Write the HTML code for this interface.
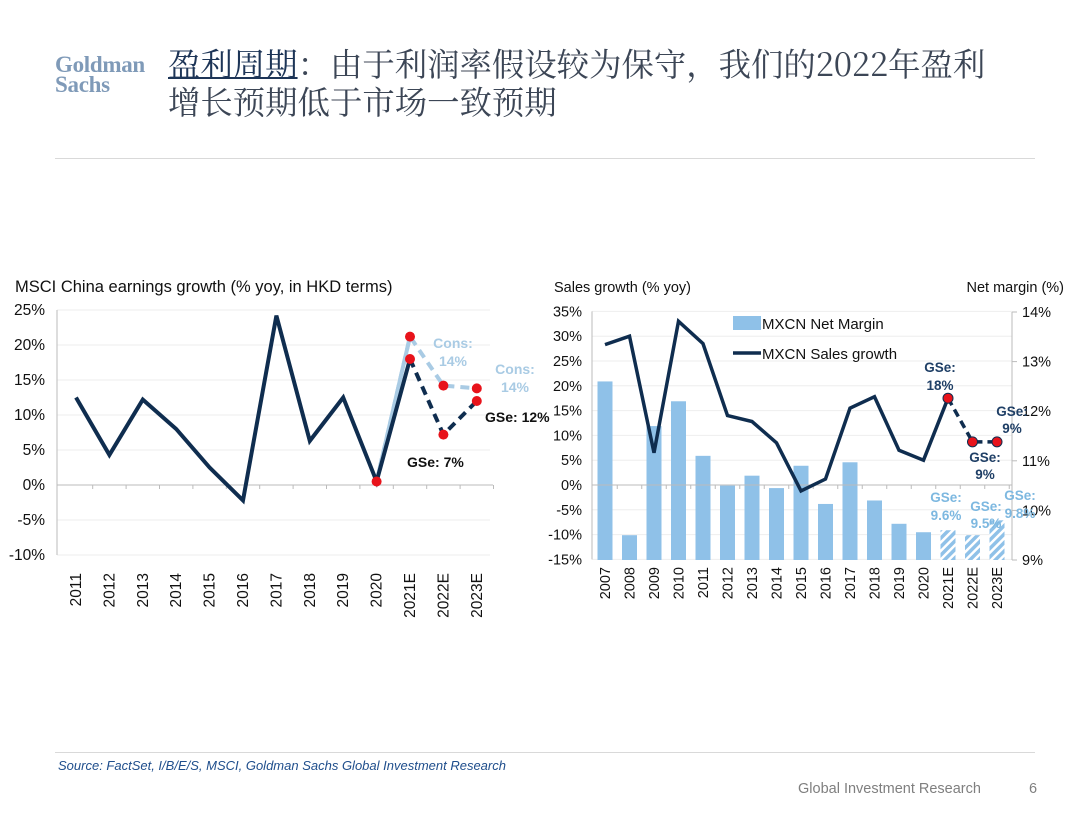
<!DOCTYPE html>
<html><head><meta charset="utf-8">
<style>
body{margin:0;width:1080px;height:834px;background:#fff;position:relative;overflow:hidden;font-family:"Liberation Sans","Noto Sans CJK SC",sans-serif;}
.logo{position:absolute;left:55px;top:55px;font-family:"Liberation Serif",serif;font-weight:bold;color:#7f9ab8;font-size:23px;line-height:20px;letter-spacing:-0.3px}
.title{position:absolute;left:168px;top:44px;font-family:"Noto Serif CJK SC",serif;font-size:32.4px;line-height:38px;color:#3c4656;white-space:nowrap}
.title u{color:#1d3557;text-decoration-thickness:2px}
.hr{position:absolute;left:55px;width:980px;height:1px;background:#d9d9d9}
.src{position:absolute;left:58px;top:758px;font-size:13px;font-style:italic;color:#1f4e8c}
.foot{position:absolute;top:781px;font-size:14.5px;color:#7f7f7f}
svg{position:absolute;left:0;top:0}
</style></head><body>
<div class="logo">Goldman<br>Sachs</div>
<div class="title"><u>盈利周期</u>：由于利润率假设较为保守，我们的2022年盈利<br>增长预期低于市场一致预期</div>
<div class="hr" style="top:158px"></div>
<div class="hr" style="top:752px"></div>
<div class="src">Source: FactSet, I/B/E/S, MSCI, Goldman Sachs Global Investment Research</div>
<div class="foot" style="left:798px">Global Investment Research</div>
<div class="foot" style="left:1029px">6</div>
<svg id="chart" width="1080" height="834"></svg>
<script>
const leftCats=["2011","2012","2013","2014","2015","2016","2017","2018","2019","2020","2021E","2022E","2023E"];
const leftActual=[12.5,4.3,12.2,8,2.5,-2.2,24.2,6.3,12.5,0.5];
const leftGS=[0.5,18,7.2,12];
const leftCons=[0.5,21.2,14.2,13.8];
const leftTicks=[25,20,15,10,5,0,-5,-10];
const rightCats=["2007","2008","2009","2010","2011","2012","2013","2014","2015","2016","2017","2018","2019","2020","2021E","2022E","2023E"];
const margin=[12.6,9.5,11.7,12.2,11.1,10.5,10.7,10.45,10.9,10.13,10.97,10.2,9.73,9.56,9.6,9.5,9.8];
const sales=[28.3,30,6.5,33,28.5,14,12.8,8.5,-1.2,1.2,15.5,17.8,7,5,17.5,8.7,8.7];
const rightTicksL=[35,30,25,20,15,10,5,0,-5,-10,-15];
const rightTicksR=[14,13,12,11,10,9];

const svg=document.getElementById('chart');const NS="http://www.w3.org/2000/svg";
function el(tag,attrs,name,txt){const e=document.createElementNS(NS,tag);for(const k in attrs)e.setAttribute(k,attrs[k]);


if(txt!==undefined)e.textContent=txt;svg.appendChild(e);return e;}
// LEFT
const ly=v=>485-(v*7);const lx=i=>76+i*33.4;
el('text',{x:15,y:292,'font-size':16.5,fill:'#111'},'left-chart-title','MSCI China earnings growth (% yoy, in HKD terms)');
leftTicks.forEach(t=>{if(t!==0)el('line',{x1:57,x2:490,y1:ly(t),y2:ly(t),stroke:'#eeeeee'},'left-gridline');
el('text',{x:45,y:ly(t)+5,'font-size':15.5,fill:'#111','text-anchor':'end'},'left-y-tick',t+'%');});
el('line',{x1:57,x2:57,y1:ly(25),y2:ly(-10),stroke:'#bbb'},'left-y-axis');
el('line',{x1:57,x2:493,y1:ly(0),y2:ly(0),stroke:'#bbb'},'left-x-axis');
leftCats.forEach((c,i)=>{el('line',{x1:lx(i)+16.7,x2:lx(i)+16.7,y1:ly(0),y2:ly(0)+4,stroke:'#bbb'},'left-x-tickmark');
el('text',{x:0,y:0,'font-size':15.5,fill:'#111','text-anchor':'end',transform:`translate(${lx(i)+5},573) rotate(-90)`},'left-x-label',c);});
el('polyline',{points:leftCons.map((v,i)=>lx(9+i)+','+ly(v)).join(' '),fill:'none',stroke:'#a9cbe4',"stroke-width":4,'stroke-dasharray':'9,6'},'cons-line');
el('line',{x1:lx(9),y1:ly(leftCons[0]),x2:lx(10),y2:ly(leftCons[1]),stroke:'#a9cbe4','stroke-width':4},'cons-line-solid');
el('polyline',{points:leftActual.map((v,i)=>lx(i)+','+ly(v)).join(' ')+' '+lx(10)+','+ly(leftGS[1]),fill:'none',stroke:'#0f2d4f','stroke-width':4,'stroke-linejoin':'miter'},'earnings-growth-line');
el('polyline',{points:leftGS.slice(1).map((v,i)=>lx(10+i)+','+ly(v)).join(' '),fill:'none',stroke:'#0f2d4f','stroke-width':4,'stroke-dasharray':'9,6'},'gse-line');
[[9,leftCons[0]],[10,leftCons[1]],[11,leftCons[2]],[12,leftCons[3]],[10,leftGS[1]],[11,leftGS[2]],[12,leftGS[3]]].forEach(p=>el('circle',{cx:lx(p[0]),cy:ly(p[1]),r:5,fill:'#e8131b'},'estimate-point'));
el('text',{x:453,y:348,'font-size':14,'font-weight':'bold',fill:'#a9cbe4','text-anchor':'middle'},'cons-2022-label','Cons:');
el('text',{x:453,y:366,'font-size':14,'font-weight':'bold',fill:'#a9cbe4','text-anchor':'middle'},'cons-2022-label','14%');
el('text',{x:515,y:374,'font-size':14,'font-weight':'bold',fill:'#a9cbe4','text-anchor':'middle'},'cons-2023-label','Cons:');
el('text',{x:515,y:392,'font-size':14,'font-weight':'bold',fill:'#a9cbe4','text-anchor':'middle'},'cons-2023-label','14%');
el('text',{x:485,y:422,'font-size':14,'font-weight':'bold',fill:'#111'},'gse-2023-label','GSe: 12%');
el('text',{x:407,y:467,'font-size':14,'font-weight':'bold',fill:'#111'},'gse-2022-label','GSe: 7%');
// RIGHT
const ry=v=>485-v*4.96;const rr=v=>560-(v-9)*49.6;const rx=i=>605+i*24.5;
el('text',{x:554,y:292,'font-size':14.5,fill:'#111'},'right-left-axis-title','Sales growth (% yoy)');
el('text',{x:1064,y:292,'font-size':14.5,fill:'#111','text-anchor':'end'},'right-right-axis-title','Net margin (%)');
rightTicksL.forEach(t=>{if(t!==0)el('line',{x1:592,x2:1012,y1:ry(t),y2:ry(t),stroke:'#eeeeee'},'right-gridline');
el('text',{x:582,y:ry(t)+5,'font-size':14.5,fill:'#111','text-anchor':'end'},'right-y-tick-left',t+'%');});
rightTicksR.forEach(t=>{el('line',{x1:1012,x2:1017,y1:rr(t),y2:rr(t),stroke:'#bbb'},'right-y-tickmark');
el('text',{x:1022,y:rr(t)+5,'font-size':14.5,fill:'#111'},'right-y-tick-right',t+'%');});
el('line',{x1:592,x2:592,y1:ry(35),y2:ry(-15),stroke:'#bbb'},'right-left-axis');
el('line',{x1:1012,x2:1012,y1:rr(14),y2:rr(9),stroke:'#bbb'},'right-right-axis');
const defs=el('defs',{},'hatch-defs');
defs.innerHTML='<pattern id="hatch" width="6" height="6" patternUnits="userSpaceOnUse" patternTransform="rotate(45)"><rect width="6" height="6" fill="#fff"/><rect width="3.5" height="6" fill="#8fc1e8"/></pattern>';
margin.forEach((v,i)=>{el('rect',{x:rx(i)-7.5,y:rr(v),width:15,height:560-rr(v),fill:i>=14?'url(#hatch)':'#8fc1e8'},'net-margin-bar');});
el('line',{x1:592,x2:1012,y1:ry(0),y2:ry(0),stroke:'#bbb'},'right-x-axis');
rightCats.forEach((c,i)=>{el('line',{x1:rx(i)+12.25,x2:rx(i)+12.25,y1:ry(0),y2:ry(0)+4,stroke:'#bbb'},'right-x-tickmark');
el('text',{x:0,y:0,'font-size':14.5,fill:'#111','text-anchor':'end',transform:`translate(${rx(i)+5},567) rotate(-90)`},'right-x-label',c);});
el('polyline',{points:sales.slice(0,15).map((v,i)=>rx(i)+','+ry(v)).join(' '),fill:'none',stroke:'#0f2d4f','stroke-width':3.5},'sales-growth-line');
el('polyline',{points:sales.slice(14).map((v,i)=>rx(14+i)+','+ry(v)).join(' '),fill:'none',stroke:'#0f2d4f','stroke-width':3.5,'stroke-dasharray':'8,5'},'sales-gse-line');
[14,15,16].forEach(i=>el('circle',{cx:rx(i),cy:ry(sales[i]),r:5,fill:'#e8131b',stroke:'#0f2d4f','stroke-width':1},'sales-estimate-point'));
el('rect',{x:733,y:316,width:28,height:14,fill:'#8fc1e8'},'legend-margin-swatch');
el('text',{x:762,y:329,'font-size':15,fill:'#111'},'legend-margin-label','MXCN Net Margin');
el('line',{x1:733,x2:761,y1:353,y2:353,stroke:'#0f2d4f','stroke-width':3.5},'legend-sales-swatch');
el('text',{x:762,y:359,'font-size':15,fill:'#111'},'legend-sales-label','MXCN Sales growth');
const lab=(x,y,t,c,n)=>el('text',{x:x,y:y,'font-size':13.5,'font-weight':'bold',fill:c,'text-anchor':'middle'},n,t);
lab(940,372,'GSe:','#1f3f66','gse-sales-2021');lab(940,390,'18%','#1f3f66','gse-sales-2021');
lab(1012,416,'GSe:','#1f3f66','gse-sales-2023');lab(1012,433,'9%','#1f3f66','gse-sales-2023');
lab(985,462,'GSe:','#1f3f66','gse-sales-2022');lab(985,479,'9%','#1f3f66','gse-sales-2022');
lab(946,502,'GSe:','#7db8e0','gse-margin-2021');lab(946,520,'9.6%','#7db8e0','gse-margin-2021');
lab(986,511,'GSe:','#7db8e0','gse-margin-2022');lab(986,528,'9.5%','#7db8e0','gse-margin-2022');
lab(1020,500,'GSe:','#7db8e0','gse-margin-2023');lab(1020,518,'9.8%','#7db8e0','gse-margin-2023');
</script>
</body></html>
